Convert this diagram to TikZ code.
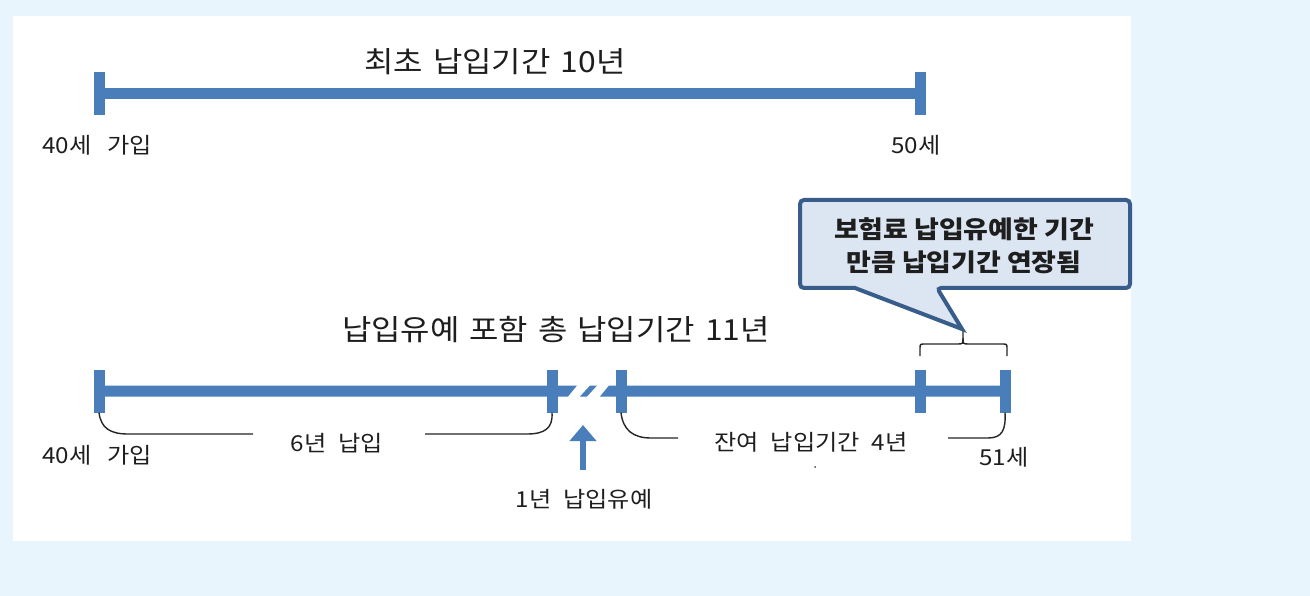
\documentclass[tikz,border=0pt]{standalone}
\usepackage{fontspec}
\setmainfont{Noto Sans CJK KR}[FakeStretch=1.1]
\usetikzlibrary{arrows.meta}
\definecolor{bgblue}{RGB}{232,245,253}
\definecolor{barblue}{RGB}{74,126,187}
\definecolor{callfill}{RGB}{220,230,242}
\definecolor{callline}{RGB}{56,93,138}
\definecolor{txt}{RGB}{30,30,30}
\newcommand\lblfont{\fontsize{22}{26}\selectfont\spaceskip 12pt\relax}
\newcommand\lblwfont{\fontsize{22}{26}\selectfont\spaceskip 16pt\relax}
\newcommand\ttlfont{\fontsize{29}{33}\selectfont\spaceskip 10pt\relax}
\newcommand\callfont{\bfseries\fontsize{24.5}{33}\selectfont\spaceskip 6pt\relax}
\tikzset{
  bar/.style={line width=11pt, draw=barblue},
  tickbox/.style={fill=barblue, draw=none, minimum width=11pt, minimum height=43pt, inner sep=0pt},
  seg/.style={fill=barblue, draw=none},
  brk/.style={draw=black!85, line width=1.4pt},
  lbl/.style={text=txt, font=\lblfont, inner sep=0pt},
  lblw/.style={text=txt, font=\lblwfont, inner sep=0pt},
  ttl/.style={text=txt, font=\ttlfont, inner sep=0pt},
  callout/.style={fill=callfill, draw=callline, line width=4pt, line join=miter},
  calltext/.style={text=txt, font=\callfont, align=center, inner sep=0pt},
  uparrow/.style={draw=barblue, line width=6pt, -{Triangle[length=16pt,width=26pt]}}
}
\begin{document}
\begin{tikzpicture}[x=1pt,y=-1pt]
\useasboundingbox (0,0) rectangle (1310,596);
\fill[bgblue] (0,0) rectangle (1310,596);
\fill[white] (13,16) rectangle (1131,541);

% ---- top timeline ----
\node[tickbox] (ta) at (99,93.5) {};
\node[tickbox] (tb) at (920,93.5) {};
\draw[bar] (ta.center) -- (tb.center);
\node[ttl] (title1) at (495,62) {최초 납입기간 10년};
\node[lblw] (la) at (97,145) {40세 가입};
\node[lbl] (lb) at (916,145) {50세};

% ---- bottom timeline ----
\node[ttl] (title2) at (556,330) {납입유예 포함 총 납입기간 11년};
\node[tickbox] (s1) at (99,391) {};
\node[tickbox] (s2) at (552,391) {};
\node[tickbox] (s3) at (621,391) {};
\node[tickbox] (s4) at (920,391) {};
\node[tickbox] (s5) at (1005,391) {};
\fill[seg] (s1.center) ++(0,-5.5) -- (577,385.5) -- (568,396.5) -- (99,396.5) -- cycle;
\fill[seg] (580,396.5) -- (587,396.5) -- (597,385.5) -- (590,385.5) -- cycle;
\fill[seg] (600,396.5) -- (609,385.5) -- (1005,385.5) -- (1005,396.5) -- cycle;

% arrow
\node[lbl] (skip) at (584,499) {1년 납입유예};
\coordinate (arrtail) at (583,470);
\coordinate (arrtip) at (583,425);
\draw[uparrow] (arrtail) -- (arrtip);

% brackets below
\coordinate (b1a) at (253,434);
\coordinate (b1b) at (425,434);
\draw[brk] (s1.south) .. controls (101,428) and (110,434) .. (128,434) -- (b1a);
\draw[brk] (b1b) -- (527,434) .. controls (545,434) and (553,428) .. (s2.south);
\node[lbl] (six) at (337,443) {6년 납입};

\coordinate (b2a) at (678,438);
\coordinate (b2b) at (948,438);
\draw[brk] (s3.south) .. controls (623,430) and (633,438) .. (651,438) -- (b2a);
\draw[brk] (b2b) -- (988,438) .. controls (1002,438) and (1006,430) .. (s5.south);
\node[lbl] (rest) at (811,442) {잔여 납입기간 4년};
\fill[black!70] (815,467) circle (1);

\node[lblw] (lc) at (97,455) {40세 가입};
\node[lbl] (ld) at (1004,457) {51세};

% brace above extension
\coordinate (brtip) at (963,331);
\draw[brk] (920,356) -- (920,349) .. controls (920,344) .. (925,344) -- (957,344) .. controls (963,344) .. (963,338) -- (brtip);
\draw[brk] (1007,356) -- (1007,349) .. controls (1007,344) .. (1002,344) -- (969,344) .. controls (963,344) .. (963,338);

% callout
\draw[callout] (830,288) [rounded corners=4] -- (800,288) -- (800,200) -- (1130,200) -- (1130,288) -- (937,288) [sharp corners] -- (962,329) -- (855,288) -- cycle;
\node[calltext] (ctext) at (964,246) {보험료 납입유예한 기간\\만큼 납입기간 연장됨};
\end{tikzpicture}
\end{document}
